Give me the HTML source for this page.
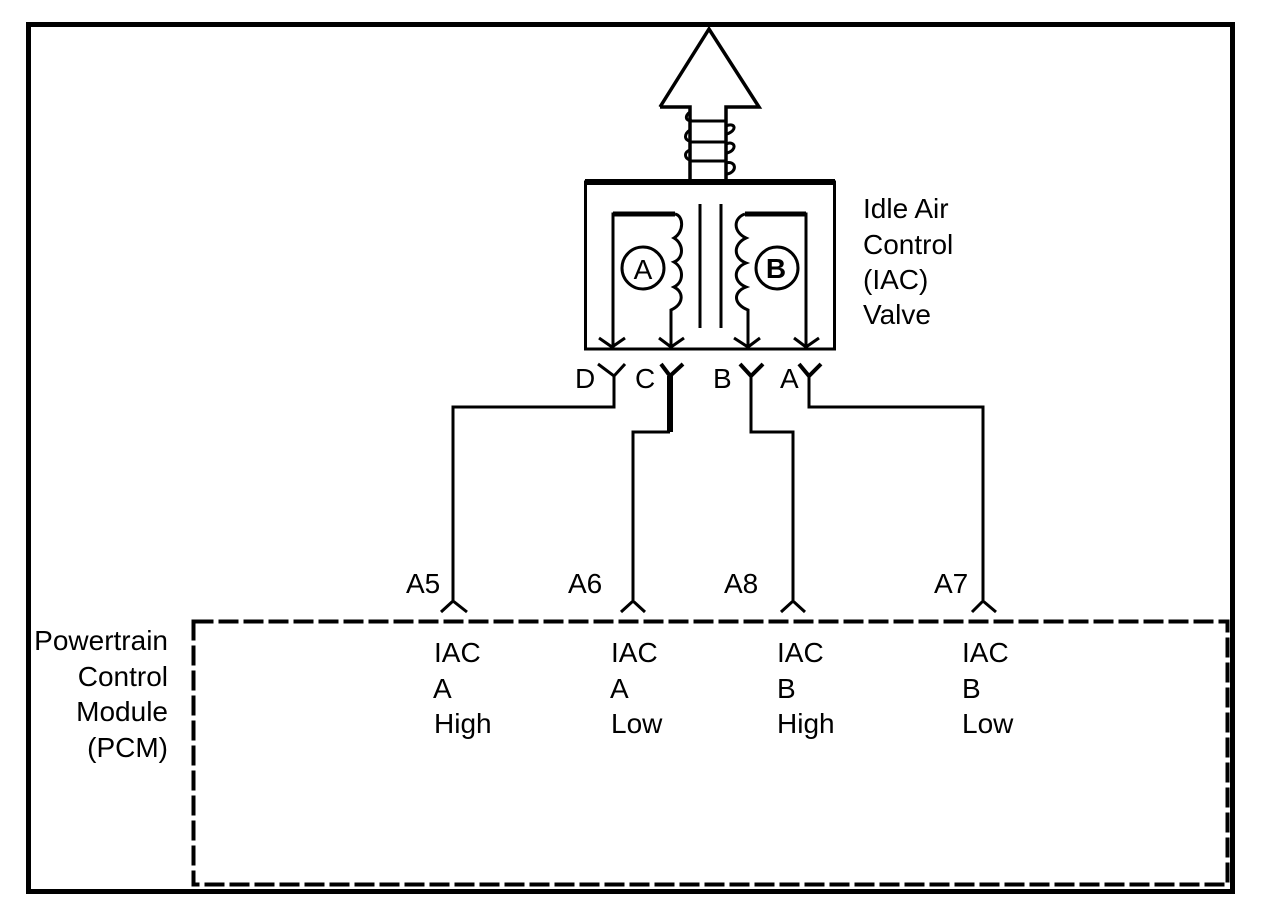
<!DOCTYPE html>
<html>
<head>
<meta charset="utf-8">
<style>
html,body{margin:0;padding:0;background:#fff;width:1280px;height:920px;overflow:hidden}
svg{display:block}
text{font-family:"Liberation Sans",sans-serif;font-size:28px;fill:#000}
</style>
</head>
<body>
<svg width="1280" height="920" viewBox="0 0 1280 920" xmlns="http://www.w3.org/2000/svg">
<rect width="1280" height="920" fill="#fff"/>
<rect x="28.5" y="24.5" width="1204" height="867" fill="none" stroke="#000" stroke-width="5"/>
<g fill="none" stroke="#000" stroke-width="3">
<path d="M660 107L709 29L759 107H726V182M660 107H690V182" stroke-width="3.5"/>
<path d="M690 121H725M690 142H725M690 161H725"/>
<path d="M690 112C684 116 686 122 692 120M690 130C684 134 684 140 690 141M690 150C684 152 684 158 690 160"/>
<path d="M726 126C735 122 738 130 727 134M726 144C735 140 738 150 727 153M726 163C736 160 738 172 727 174"/>
<rect x="585.5" y="182" width="249" height="167"/>
<path d="M585 182H835" stroke-width="6"/>
<path d="M700 204V328M721 204V328"/>
<path d="M613 349V214H675" />
<path d="M613 214H675" stroke-width="5"/>
<path d="M675 214C684 216 684 232 674 238C684 244 684 258 674 262C684 268 684 282 674 287C684 292 684 304 671 310V349"/>
<path d="M806 349V214H745"/>
<path d="M806 214H745" stroke-width="5"/>
<path d="M745 214C733 218 733 232 746 238C733 244 733 258 746 263C733 268 733 282 746 287C733 292 733 304 748 310V349"/>
<circle cx="643" cy="268" r="21"/>
<circle cx="777" cy="268" r="21"/>
<path d="M599 338L612 347L625 338M659 338L671 347L684 338M734 338L748 347L760 338M794 338L806 347L819 338"/>
<path d="M598 364L614 376L625 364M614 376V407H453V600"/>
<path d="M661 364L670 376L683 364" stroke-width="4"/>
<path d="M670 376V432" stroke-width="6"/>
<path d="M670 432H633V600"/>
<path d="M740 364L751 376L763 364" stroke-width="4"/>
<path d="M751 376V432H793V600"/>
<path d="M799 364L809 376L821 364" stroke-width="4"/>
<path d="M809 376V407H983V600"/>
<path d="M441 612L453 601L467 612M621 612L633 601L645 612M781 612L793 601L805 612M972 612L983 601L996 612"/>
<rect x="193.5" y="621.5" width="1034" height="263" stroke-width="4" stroke-dasharray="20 5"/>
</g>
<text x="643" y="279" text-anchor="middle">A</text>
<text x="776" y="278" text-anchor="middle" font-weight="bold">B</text>
<text x="863" y="218">Idle Air</text>
<text x="863" y="254">Control</text>
<text x="863" y="289">(IAC)</text>
<text x="863" y="324">Valve</text>
<text x="575" y="388">D</text>
<text x="635" y="388">C</text>
<text x="713" y="388">B</text>
<text x="780" y="388">A</text>
<text x="406" y="593">A5</text>
<text x="568" y="593">A6</text>
<text x="724" y="593">A8</text>
<text x="934" y="593">A7</text>
<text x="168" y="650" text-anchor="end">Powertrain</text>
<text x="168" y="686" text-anchor="end">Control</text>
<text x="168" y="721" text-anchor="end">Module</text>
<text x="168" y="757" text-anchor="end">(PCM)</text>
<text x="434" y="662">IAC</text><text x="433" y="698">A</text><text x="434" y="733">High</text>
<text x="611" y="662">IAC</text><text x="610" y="698">A</text><text x="611" y="733">Low</text>
<text x="777" y="662">IAC</text><text x="777" y="698">B</text><text x="777" y="733">High</text>
<text x="962" y="662">IAC</text><text x="962" y="698">B</text><text x="962" y="733">Low</text>
</svg>
</body>
</html>
